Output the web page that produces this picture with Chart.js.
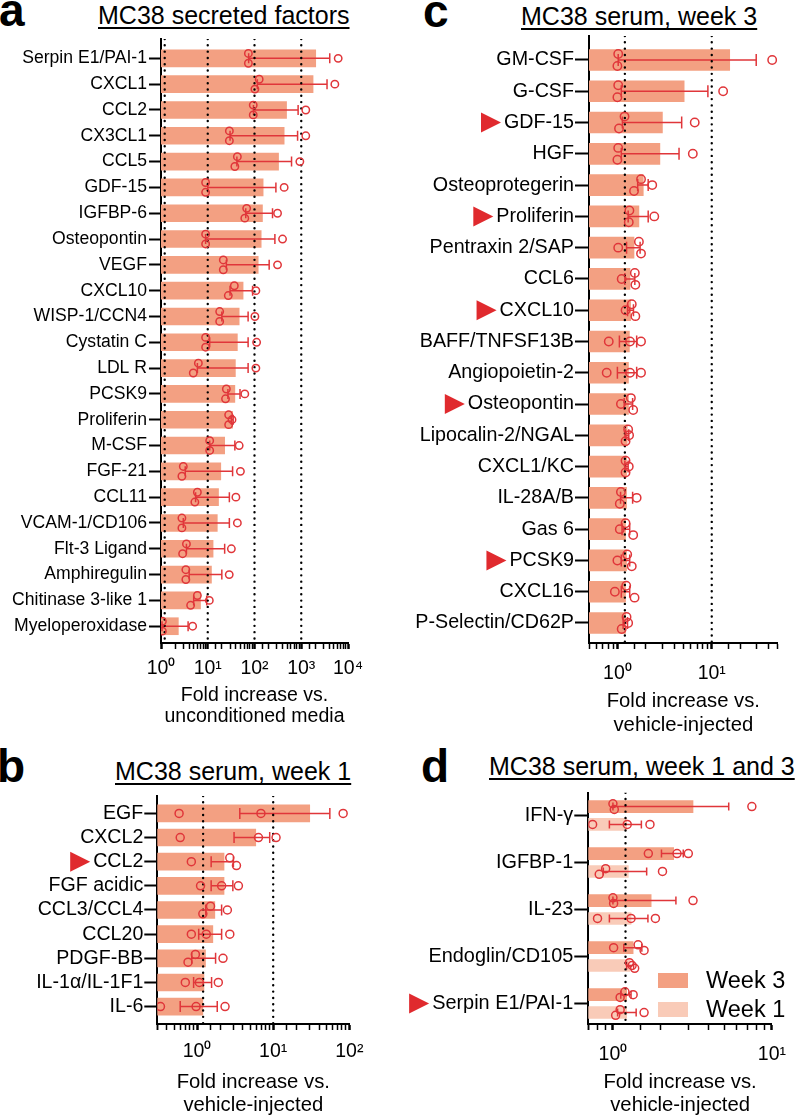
<!DOCTYPE html>
<html>
<head>
<meta charset="utf-8">
<script src="https://cdn.jsdelivr.net/npm/chart.js@4.4.1/dist/chart.umd.min.js"></script>
<style>
  body { margin: 0; background: #fff; color: #000; font-family: 'Liberation Sans', Arial, sans-serif; }
  #page { position: relative; width: 799px; height: 1117px; overflow: hidden; }
  canvas { position: absolute; }
  .letter { position: absolute; font-weight: bold; font-size: 46px; line-height: 46px; }
  .title { position: absolute; font-size: 25px; line-height: 25px; white-space: nowrap;
    text-decoration: underline; text-decoration-thickness: 1.5px; text-underline-offset: 3px; }
  #legend { position: absolute; left: 658px; top: 966px; margin: 0; padding: 0; list-style: none; }
  #legend li { display: flex; align-items: center; height: 29px; }
  .colorBox { display: inline-block; width: 30px; height: 15px; margin-right: 18px; }
  .legendText { font-size: 23.5px; }
</style>
</head>
<body>
<div id="page">
  <div class="letter" style="left:-1px; top:-13px;">a</div>
  <div class="letter" style="left:-3px; top:743px;">b</div>
  <div class="letter" style="left:423px; top:-12px;">c</div>
  <div class="letter" style="left:421px; top:743px;">d</div>
  <div class="title" style="left:98px; top:3px;">MC38 secreted factors</div>
  <div class="title" style="left:115px; top:759px;">MC38 serum, week 1</div>
  <div class="title" style="left:521px; top:4px;">MC38 serum, week 3</div>
  <div class="title" style="left:489px; top:754px;">MC38 serum, week 1 and 3</div>

  <canvas id="chartA" width="400" height="732" style="left:0; top:0;"></canvas>
  <canvas id="chartB" width="400" height="377" style="left:0; top:740px;"></canvas>
  <canvas id="chartC" width="399" height="740" style="left:400px; top:0;"></canvas>
  <canvas id="chartD" width="399" height="377" style="left:400px; top:740px;"></canvas>
  <ul id="legend"></ul>
</div>

<script>
// ---- panel a: secreted factors (fold vs unconditioned media) ----
const aCats = ['Serpin E1/PAI-1', 'CXCL1', 'CCL2', 'CX3CL1', 'CCL5', 'GDF-15', 'IGFBP-6',
  'Osteopontin', 'VEGF', 'CXCL10', 'WISP-1/CCN4', 'Cystatin C', 'LDL R', 'PCSK9', 'Proliferin',
  'M-CSF', 'FGF-21', 'CCL11', 'VCAM-1/CD106', 'Flt-3 Ligand', 'Amphiregulin',
  'Chitinase 3-like 1', 'Myeloperoxidase'];
const aMean = [2040, 1790, 485, 431, 327, 153, 148, 139, 120, 57, 47, 43, 39, 38, 34, 23, 19, 17, 16, 13, 12, 7, 2.35];
const aHi = [4070, 3560, 857, 835, 620, 287, 243, 273, 206, 91, 73, 73, 73, 49, 35, 38, 34, 29, 29, 23, 20, 9.5, 3.8];
const aLo = [75, 115, 95, 30, 42, 10, 65, 9, 25, 30, 20, 11, 6, 27, 32, 11, 3.3, 5.5, 3, 3.5, 4, 5, 1.05];
const aPts = [[74, 74, 6170], [126, 102, 5230], [94, 94, 1250], [29, 29, 1250], [43, 38, 933],
  [9, 9, 431], [68, 62, 311], [9, 9, 398], [21.5, 21.5, 311], [37, 27.5, 107], [18, 18, 102],
  [9, 9, 111], [6.3, 4.9, 107], [25, 24, 62], [28, 33, 28], [11, 11, 47], [3, 2.8, 50],
  [6, 5.3, 40], [2.8, 2.8, 43], [3.5, 2.9, 32], [3.4, 3.4, 28.8], [6, 4.3, 10.8], [1.07, 1.07, 4.75]];
const aRefs = [1.2, 10, 100, 1000];

// ---- panel b: serum week 1 ----
const bCats = ['EGF', 'CXCL2', 'CCL2', 'FGF acidic', 'CCL3/CCL4', 'CCL20', 'PDGF-BB', 'IL-1α/IL-1F1', 'IL-6'];
const bMean = [30.2, 5.9, 2.26, 2.26, 1.71, 1.61, 1.29, 1.23, 1.19];
const bHi = [55.5, 9, 3.0, 2.95, 2.1, 2.1, 1.75, 1.55, 1.84];
const bLo = [3.64, 3.06, 1.53, 1.53, 1.3, 1.05, 0.85, 0.9, 0.6];
const bPts = [[0.58, 6.9, 83], [0.6, 6.4, 10.9], [2.69, 3.29, 0.84], [1.11, 2.1, 3.49], [1.5, 1.19, 2.5],
  [0.84, 1.32, 2.69], [0.95, 0.76, 2.19], [0.7, 1.07, 1.9], [0.33, 0.97, 2.33]];
const bRefs = [1.2, 10];
const bFlags = ['CCL2'];

// ---- panel c: serum week 3 ----
const cCats = ['GM-CSF', 'G-CSF', 'GDF-15', 'HGF', 'Osteoprotegerin', 'Proliferin', 'Pentraxin 2/SAP',
  'CCL6', 'CXCL10', 'BAFF/TNFSF13B', 'Angiopoietin-2', 'Osteopontin', 'Lipocalin-2/NGAL',
  'CXCL1/KC', 'IL-28A/B', 'Gas 6', 'PCSK9', 'CXCL16', 'P-Selectin/CD62P'];
const cMean = [15.5, 5.1, 3.0, 2.82, 1.88, 1.69, 1.5, 1.36, 1.38, 1.34, 1.31, 1.31, 1.27, 1.25, 1.25, 1.22, 1.25, 1.22, 1.22];
const cHi = [29.6, 9.1, 4.8, 4.5, 2.12, 2.12, 1.74, 1.53, 1.48, 1.6, 1.6, 1.45, 1.32, 1.3, 1.45, 1.35, 1.35, 1.35, 1.28];
const cLo = [1.02, 1.1, 1.13, 1.1, 1.64, 1.3, 1.25, 1.2, 1.28, 1.05, 1.0, 1.18, 1.22, 1.2, 1.08, 1.12, 1.1, 1.1, 1.15];
const cPts = [[1.02, 1.0, 43.7], [1.02, 1.0, 13.2], [1.19, 1.04, 6.6], [1.02, 1.0, 6.3], [1.78, 1.5, 2.34],
  [1.34, 1.32, 2.46], [1.69, 1.02, 1.78], [1.53, 1.11, 1.55], [1.42, 1.22, 1.55], [0.81, 1.36, 1.78],
  [0.77, 1.36, 1.78], [1.39, 1.09, 1.47], [1.3, 1.33, 1.22], [1.22, 1.32, 1.22], [1.09, 1.6, 1.06],
  [1.22, 1.06, 1.47], [1.27, 1.0, 1.42], [1.24, 0.94, 1.52], [1.25, 1.3, 1.11]];
const cRefs = [1.2, 10];
const cFlags = ['GDF-15', 'Proliferin', 'CXCL10', 'Osteopontin', 'PCSK9'];

// ---- panel d: serum week 1 and 3 ----
const dCats = ['IFN-γ', 'IGFBP-1', 'IL-23', 'Endoglin/CD105', 'Serpin E1/PAI-1'];
const dW3Mean = [3.19, 2.41, 1.74, 1.34, 1.22];
const dW3Hi = [5.35, 2.77, 2.49, 1.52, 1.3];
const dW3Lo = [1.0, 2.02, 1.0, 1.17, 1.12];
const dW3Pts = [[1.0, 1.02, 7.48], [1.67, 2.53, 2.98], [1.0, 1.01, 3.19], [1.44, 1.57, 1.01], [1.19, 1.11, 1.34]];
const dW1Mean = [1.22, 1.25, 1.3, 1.28, 1.22];
const dW1Hi = [1.51, 1.63, 1.66, 1.35, 1.4];
const dW1Lo = [0.95, 0.87, 0.95, 1.22, 1.07];
const dW1Pts = [[0.745, 1.23, 1.71], [0.9, 0.82, 2.05], [0.8, 1.3, 1.85], [1.27, 1.32, 1.37], [1.11, 1.04, 1.57]];
const dRefs = [1.2];
const dFlags = ['Serpin E1/PAI-1'];

const RED = '#E0363A';
const SALMON = '#F3A082';
const PALE = '#F9CBB8';
const FONT = "'Liberation Sans', Arial, sans-serif";
const SUP = { '0': '⁰', '1': '¹', '2': '²', '3': '³', '4': '⁴' };

// only powers of ten get a label, as 10ⁿ
function powLabel(v) {
  const e = Math.log10(v);
  const r = Math.round(e);
  if (Math.abs(e - r) > 1e-6) return '';
  return '10' + String(r).split('').map((c) => SUP[c]).join('');
}

// replicates that would overlap are stacked vertically (first one on top)
function spread(vals, thr, step) {
  const root = vals.map((_, i) => i);
  const find = (i) => (root[i] === i ? i : (root[i] = find(root[i])));
  for (let i = 0; i < vals.length; i++) {
    for (let j = i + 1; j < vals.length; j++) {
      if (Math.abs(Math.log10(vals[i]) - Math.log10(vals[j])) < thr) root[find(j)] = find(i);
    }
  }
  const groups = {};
  vals.forEach((_, i) => { (groups[find(i)] = groups[find(i)] || []).push(i); });
  const off = vals.map(() => 0);
  Object.values(groups).forEach((g) => {
    const k = g.length;
    g.forEach((idx, j) => { off[idx] = (j - (k - 1) / 2) * (k === 2 ? 2 : 1) * step; });
  });
  return off;
}

// mean ± SEM whiskers, drawn right after each bar dataset
const errorBars = {
  id: 'errorBars',
  afterDatasetDraw(chart, args, opts) {
    const ds = chart.data.datasets[args.index];
    if (!ds.errHi) return;
    const { ctx, scales: { x, y } } = chart;
    const c = opts.cap / 2;
    ctx.save();
    ctx.strokeStyle = opts.color;
    ctx.lineWidth = opts.width;
    ds.data.forEach((d, i) => {
      const yp = y.getPixelForValue(d.y);
      const x0 = x.getPixelForValue(ds.errLo[i]);
      const x1 = x.getPixelForValue(ds.errHi[i]);
      ctx.beginPath();
      ctx.moveTo(x0, yp); ctx.lineTo(x1, yp);
      ctx.moveTo(x0, yp - c); ctx.lineTo(x0, yp + c);
      ctx.moveTo(x1, yp - c); ctx.lineTo(x1, yp + c);
      ctx.stroke();
    });
    ctx.restore();
  },
};

// red arrowheads in front of highlighted category labels
const markers = {
  id: 'markers',
  afterDraw(chart, args, opts) {
    if (!opts.names || !opts.names.length) return;
    const y = chart.scales.y;
    const ctx = chart.ctx;
    ctx.save();
    ctx.font = Chart.helpers.toFont(y.options.ticks.font).string;
    ctx.fillStyle = opts.color;
    opts.names.forEach((name) => {
      const i = opts.cats.indexOf(name);
      const w = ctx.measureText(name).width;
      const right = y.right - y.options.grid.tickLength - y.options.ticks.padding - w - opts.gap;
      const py = y.getPixelForValue(i);
      ctx.beginPath();
      ctx.moveTo(right - opts.size, py - opts.size / 2);
      ctx.lineTo(right, py);
      ctx.lineTo(right - opts.size, py + opts.size / 2);
      ctx.closePath();
      ctx.fill();
    });
    ctx.restore();
  },
};

// html legend, built from the bar datasets
const htmlLegend = {
  id: 'htmlLegend',
  afterUpdate(c) {
    const ul = document.getElementById('legend');
    while (ul.firstChild) ul.firstChild.remove();
    c.data.datasets.filter((d) => d.type === 'bar').forEach((d) => {
      const li = document.createElement('li');
      const box = document.createElement('span');
      box.classList.add('colorBox');
      box.style.backgroundColor = d.backgroundColor;
      const label = document.createElement('span');
      label.classList.add('legendText');
      label.appendChild(document.createTextNode(d.label));
      li.appendChild(box);
      li.appendChild(label);
      ul.appendChild(li);
    });
  },
};

function buildPanel(id, p, extraPlugins) {
  const datasets = [];
  p.series.forEach((s) => {
    datasets.push({
      type: 'bar',
      label: s.label,
      data: s.mean.map((v, i) => ({ x: v, y: i + s.shift })),
      backgroundColor: s.color,
      barThickness: p.barThickness,
      grouped: false,
      order: 4,
      errLo: s.lo,
      errHi: s.hi,
    });
    const pts = [];
    s.pts.forEach((row, i) => {
      const off = spread(row, p.thr, p.step);
      row.forEach((v, j) => pts.push({ x: v, y: i + s.shift + off[j] }));
    });
    datasets.push({
      type: 'scatter',
      data: pts,
      pointRadius: p.radius,
      pointBorderWidth: 1.5,
      pointBorderColor: RED,
      pointBackgroundColor: 'rgba(0,0,0,0)',
      order: 1,
    });
  });
  p.refs.forEach((r) => {
    datasets.push({
      type: 'scatter',
      showLine: true,
      data: [{ x: r, y: p.yMin }, { x: r, y: p.yMax }],
      borderColor: '#000',
      borderWidth: 2.4,
      borderDash: [0.01, 6.3],
      borderCapStyle: 'round',
      pointRadius: 0,
      order: 3,
    });
  });

  return new Chart(document.getElementById(id), {
    type: 'bar',
    data: { datasets },
    options: {
      responsive: false,
      animation: false,
      devicePixelRatio: 1,
      indexAxis: 'y',
      layout: { padding: p.pad },
      plugins: {
        legend: { display: false },
        tooltip: { enabled: false },
        errorBars: { cap: p.cap, color: RED, width: 1.5 },
        markers: { names: p.flags || [], cats: p.cats, color: '#E02A2E', size: 20, gap: 3 },
      },
      scales: {
        x: {
          type: 'logarithmic',
          min: p.xMin,
          max: p.xMax,
          beginAtZero: false,
          border: { display: true, color: '#000', width: 2 },
          grid: {
            drawOnChartArea: false,
            tickLength: 6,
            tickColor: '#000',
            tickWidth: (ctx) => (ctx.tick && powLabel(ctx.tick.value) ? 2.5 : 1.5),
          },
          ticks: {
            autoSkip: false,
            maxRotation: 0,
            padding: p.xPad,
            color: '#000',
            font: { family: FONT, size: 19.5 },
            callback: (v) => powLabel(v),
          },
          title: {
            display: true,
            text: ['Fold increase vs.', p.xTitle],
            color: '#000',
            padding: { top: 0, bottom: 0 },
            font: { family: FONT, size: p.titleSize, lineHeight: p.titleLH },
          },
          afterFit: (s) => { s.height = p.xH; },
        },
        y: {
          type: 'linear',
          min: p.yMin,
          max: p.yMax,
          reverse: true,
          offset: false,
          border: { display: true, color: '#000', width: 2 },
          grid: { offset: false, drawOnChartArea: false, tickLength: p.yTick, tickColor: '#000', tickWidth: 2 },
          afterBuildTicks: (s) => { s.ticks = p.cats.map((_, i) => ({ value: i })); },
          ticks: {
            autoSkip: false,
            padding: p.yPad,
            color: '#000',
            font: { family: FONT, size: p.ySize },
            callback: (v) => p.cats[v],
          },
          afterFit: (s) => { s.width = p.yW; },
        },
      },
    },
    plugins: [errorBars, markers].concat(extraPlugins || []),
  });
}

buildPanel('chartA', {
  cats: aCats,
  series: [{ mean: aMean, hi: aHi, lo: aLo, pts: aPts, color: SALMON, shift: 0 }],
  refs: aRefs,
  xMin: 1, xMax: 10000, yMin: -0.75, yMax: 22.65,
  pad: { top: 39, right: 52, bottom: 4.3, left: 0 },
  yW: 161, xH: 84.7, xPad: 8, yTick: 12, yPad: 2, ySize: 17.6,
  xTitle: 'unconditioned media', titleSize: 19.5, titleLH: 1.1,
  barThickness: 17, cap: 10, radius: 3.7, thr: 0.18, step: 0.19,
});

buildPanel('chartB', {
  cats: bCats,
  series: [{ mean: bMean, hi: bHi, lo: bLo, pts: bPts, color: SALMON, shift: 0 }],
  refs: bRefs,
  flags: bFlags,
  xMin: 0.3, xMax: 100, yMin: -0.72, yMax: 8.72,
  pad: { top: 56, right: 50.7, bottom: 0.8, left: 0 },
  yW: 157.3, xH: 92.2, xPad: 10, yTick: 13, yPad: 1, ySize: 19.6,
  xTitle: 'vehicle-injected', titleSize: 20.3, titleLH: 1.1,
  barThickness: 17, cap: 11, radius: 4, thr: 0.12, step: 0.16,
});

buildPanel('chartC', {
  cats: cCats,
  series: [{ mean: cMean, hi: cHi, lo: cLo, pts: cPts, color: SALMON, shift: 0 }],
  refs: cRefs,
  flags: cFlags,
  xMin: 0.5, xMax: 50, yMin: -0.767, yMax: 18.64,
  pad: { top: 36, right: 21.3, bottom: 3.4, left: 0 },
  yW: 189, xH: 93.6, xPad: 13, yTick: 14, yPad: 1, ySize: 19.7,
  xTitle: 'vehicle-injected', titleSize: 20.3, titleLH: 1.15,
  barThickness: 21, cap: 12, radius: 4.2, thr: 0.096, step: 0.19,
});

buildPanel('chartD', {
  cats: dCats,
  series: [
    { label: 'Week 3', mean: dW3Mean, hi: dW3Hi, lo: dW3Lo, pts: dW3Pts, color: SALMON, shift: -0.19 },
    { label: 'Week 1', mean: dW1Mean, hi: dW1Hi, lo: dW1Lo, pts: dW1Pts, color: PALE, shift: 0.19 },
  ],
  refs: dRefs,
  flags: dFlags,
  xMin: 0.7, xMax: 10, yMin: -0.485, yMax: 4.434,
  pad: { top: 52.7, right: 21.3, bottom: 0.8, left: 0 },
  yW: 188.3, xH: 92.2, xPad: 13, yTick: 14, yPad: 1, ySize: 19.9,
  xTitle: 'vehicle-injected', titleSize: 20.3, titleLH: 1.1,
  barThickness: 12, cap: 8, radius: 4, thr: 0.05, step: 0.06,
}, [htmlLegend]);
</script>
</body>
</html>
